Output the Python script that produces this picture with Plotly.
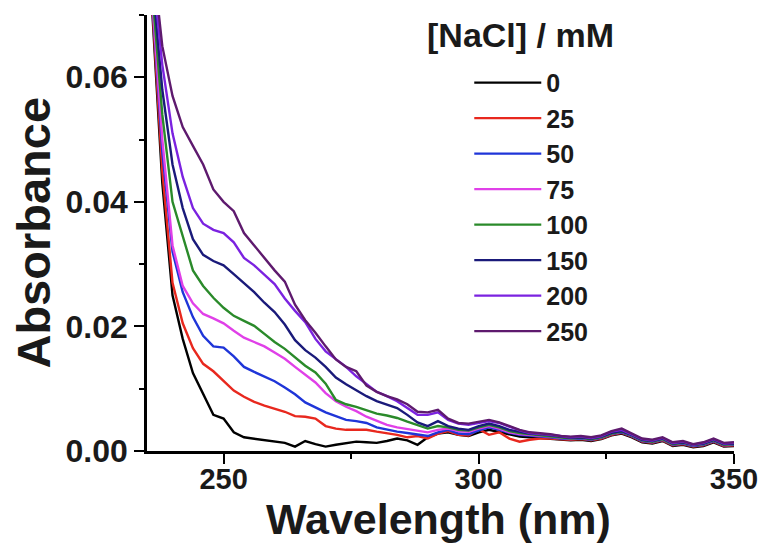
import plotly.graph_objects as go

wavelength = list(range(236, 351, 2))

nacl_labels = ["0", "25", "50", "75", "100", "150", "200", "250"]
colors = ["#000000", "#e8281e", "#1f35d8", "#e040e8", "#2a8a2a", "#1a1a7a", "#7b22e0", "#5e1a6e"]

abs_0 = [0.071, 0.043, 0.025, 0.018, 0.0125, 0.0092, 0.0058, 0.0052, 0.0030, 0.0022, 0.0020, 0.0018, 0.0016, 0.0013, 0.0007, 0.0016, 0.0011, 0.0007, 0.0010, 0.0012, 0.0015, 0.0014, 0.0013, 0.0016, 0.0020, 0.0017, 0.0010, 0.0022, 0.0028,
         0.0030, 0.0026, 0.0024, 0.0030, 0.0034, 0.0030, 0.0026, 0.0023, 0.0022, 0.0021, 0.0019, 0.0018, 0.0017, 0.0018, 0.0016, 0.0019, 0.0025, 0.0028, 0.0022, 0.0014, 0.0012, 0.0016, 0.0008, 0.0010, 0.0006, 0.0008, 0.0014, 0.0007, 0.0008]
abs_25 = [0.072, 0.045, 0.027, 0.0205, 0.0165, 0.014, 0.0128, 0.0112, 0.0097, 0.0087, 0.0079, 0.0073, 0.0068, 0.0063, 0.0056, 0.0055, 0.0052, 0.0040, 0.0036, 0.0034, 0.0034, 0.0034, 0.0031, 0.0029, 0.0026, 0.0022, 0.0024, 0.0020, 0.0028,
          0.0032, 0.0026, 0.0025, 0.0035, 0.0026, 0.0030, 0.0020, 0.0015, 0.0018, 0.0020, 0.0020, 0.0019, 0.0018, 0.0019, 0.0017, 0.0020, 0.0026, 0.0029, 0.0023, 0.0015, 0.0013, 0.0017, 0.0009, 0.0011, 0.0007, 0.0009, 0.0015, 0.0008, 0.0009]
abs_50 = [0.073, 0.048, 0.032, 0.0255, 0.0215, 0.0185, 0.0168, 0.0166, 0.0152, 0.0135, 0.0127, 0.0119, 0.0112, 0.0102, 0.0091, 0.0078, 0.0070, 0.0062, 0.0056, 0.0050, 0.0048, 0.0045, 0.0038, 0.0034, 0.0031, 0.0029, 0.0027, 0.0024, 0.0030,
          0.0034, 0.0028, 0.0027, 0.0033, 0.0038, 0.0034, 0.0029, 0.0026, 0.0025, 0.0024, 0.0022, 0.0020, 0.0019, 0.0020, 0.0018, 0.0021, 0.0027, 0.0030, 0.0024, 0.0016, 0.0014, 0.0018, 0.0010, 0.0012, 0.0008, 0.0010, 0.0016, 0.0009, 0.0010]
abs_75 = [0.073, 0.050, 0.033, 0.0265, 0.0237, 0.022, 0.0213, 0.0205, 0.0193, 0.0182, 0.0175, 0.0168, 0.0158, 0.0148, 0.0135, 0.0122, 0.011, 0.0093, 0.008, 0.0071, 0.0064, 0.0055, 0.0048, 0.0042, 0.0038, 0.0035, 0.0033, 0.0030, 0.0034,
          0.0036, 0.0032, 0.0031, 0.0036, 0.0040, 0.0036, 0.0030, 0.0027, 0.0026, 0.0025, 0.0023, 0.0021, 0.0020, 0.0021, 0.0019, 0.0022, 0.0028, 0.0031, 0.0025, 0.0017, 0.0015, 0.0019, 0.0011, 0.0013, 0.0009, 0.0011, 0.0017, 0.0010, 0.0011]
abs_100 = [0.074, 0.054, 0.040, 0.0343, 0.029, 0.0265, 0.0246, 0.023, 0.0217, 0.0209, 0.0201, 0.0188, 0.0175, 0.0164, 0.015, 0.0137, 0.0126, 0.0108, 0.0082, 0.0075, 0.0071, 0.0065, 0.006, 0.0057, 0.0053, 0.0047, 0.0042, 0.0036, 0.0040,
           0.0038, 0.0034, 0.0033, 0.0038, 0.0042, 0.0038, 0.0032, 0.0029, 0.0027, 0.0026, 0.0024, 0.0022, 0.0020, 0.0021, 0.0019, 0.0022, 0.0028, 0.0031, 0.0025, 0.0017, 0.0015, 0.0019, 0.0011, 0.0013, 0.0009, 0.0011, 0.0017, 0.0010, 0.0011]
abs_150 = [0.076, 0.058, 0.046, 0.039, 0.034, 0.0315, 0.0305, 0.0298, 0.0284, 0.027, 0.0255, 0.0238, 0.0223, 0.0203, 0.0178, 0.0162, 0.015, 0.0135, 0.0118, 0.0107, 0.0097, 0.0088, 0.008, 0.0074, 0.0069, 0.0058, 0.0046, 0.0040, 0.0048,
           0.0040, 0.0036, 0.0034, 0.0040, 0.0044, 0.0040, 0.0034, 0.0031, 0.0028, 0.0027, 0.0025, 0.0023, 0.0021, 0.0022, 0.0020, 0.0023, 0.0029, 0.0032, 0.0026, 0.0018, 0.0016, 0.0020, 0.0012, 0.0014, 0.0010, 0.0012, 0.0018, 0.0011, 0.0012]
abs_200 = [0.078, 0.062, 0.051, 0.044, 0.039, 0.0365, 0.0355, 0.035, 0.0335, 0.031, 0.0298, 0.0283, 0.0268, 0.0245, 0.0225, 0.0207, 0.018, 0.016, 0.0147, 0.0135, 0.012, 0.0108, 0.0095, 0.0088, 0.008, 0.0069, 0.0058, 0.0058, 0.0062,
           0.0050, 0.0044, 0.0042, 0.0045, 0.0048, 0.0045, 0.0039, 0.0033, 0.0029, 0.0028, 0.0026, 0.0024, 0.0022, 0.0023, 0.0021, 0.0024, 0.0031, 0.0034, 0.0027, 0.0019, 0.0017, 0.0021, 0.0013, 0.0015, 0.0010, 0.0013, 0.0019, 0.0012, 0.0013]
abs_250 = [0.080, 0.065, 0.057, 0.052, 0.049, 0.046, 0.042, 0.040, 0.0385, 0.035, 0.033, 0.031, 0.029, 0.0272, 0.0235, 0.021, 0.019, 0.0168, 0.0147, 0.0135, 0.0128, 0.0105, 0.0095, 0.0088, 0.0083, 0.0075, 0.0063, 0.0062, 0.0066,
           0.0052, 0.0045, 0.0044, 0.0047, 0.0050, 0.0046, 0.0040, 0.0034, 0.0030, 0.0029, 0.0027, 0.0024, 0.0023, 0.0024, 0.0022, 0.0025, 0.0032, 0.0036, 0.0028, 0.0020, 0.0018, 0.0022, 0.0014, 0.0016, 0.0011, 0.0014, 0.0020, 0.0013, 0.0014]

series = [abs_0, abs_25, abs_50, abs_75, abs_100, abs_150, abs_200, abs_250]

x_ticks = [250, 300, 350]
y_ticks = [0.00, 0.02, 0.04, 0.06]
y_ticktext = ["0.00", "0.02", "0.04", "0.06"]

FONT = "Liberation Sans, Arial, sans-serif"
TXT = "#1a1a1a"

fig = go.Figure()
for lab, col, ys in zip(nacl_labels, colors, series):
    fig.add_trace(go.Scatter(
        x=wavelength, y=ys, mode="lines", name=f"<b>{lab}</b>", legendgroup=lab,
        line=dict(color=col, width=2.4),
    ))

fig.update_layout(
    width=770, height=543,
    margin=dict(l=147, r=33, t=15, b=92),
    paper_bgcolor="white", plot_bgcolor="white",
    font=dict(family=FONT, color=TXT),
    showlegend=True,
    legend=dict(
        x=0.549, xanchor="left", y=0.897, yanchor="top",
        font=dict(family=FONT, size=25, color=TXT),
        bgcolor="rgba(0,0,0,0)", tracegroupgap=8,
        itemwidth=67, traceorder="normal",
    ),
    annotations=[
        dict(text="<b>[NaCl] / mM</b>", x=0.636, y=0.955, xref="paper", yref="paper",
             xanchor="center", yanchor="middle", showarrow=False,
             font=dict(family=FONT, size=34, color=TXT)),
        dict(text="<b>Wavelength (nm)</b>", x=0.497, y=-0.216, xref="paper", yref="paper",
             xanchor="center", yanchor="bottom", showarrow=False,
             font=dict(family=FONT, size=43, color=TXT)),
        dict(text="<b>Absorbance</b>", x=-0.195, y=0.5, xref="paper", yref="paper",
             xanchor="center", yanchor="middle", showarrow=False, textangle=-90,
             font=dict(family=FONT, size=47, color=TXT)),
    ],
)

fig.update_xaxes(
    range=[235, 350], tickvals=x_ticks, ticktext=[f"<b>{v}</b>" for v in x_ticks],
    ticks="outside", ticklen=10, tickwidth=2, tickcolor="black",
    showline=True, linecolor="black", linewidth=2.5, mirror=False,
    showgrid=False, zeroline=False, ticklabelstandoff=-10,
    tickfont=dict(family=FONT, size=29, color=TXT),
    minor=dict(tickvals=[275, 325], ticks="outside", ticklen=5, tickwidth=2, tickcolor="black"),
)
fig.update_yaxes(
    range=[0, 0.07], tickvals=y_ticks, ticktext=[f"<b>{t}</b>" for t in y_ticktext],
    ticks="outside", ticklen=10, tickwidth=2, tickcolor="black",
    showline=True, linecolor="black", linewidth=2.5, mirror=False,
    showgrid=False, zeroline=False,
    tickfont=dict(family=FONT, size=32, color=TXT),
    minor=dict(tickvals=[0.01, 0.03, 0.05, 0.07], ticks="outside", ticklen=5, tickwidth=2, tickcolor="black"),
)

fig.write_html("out.html")
